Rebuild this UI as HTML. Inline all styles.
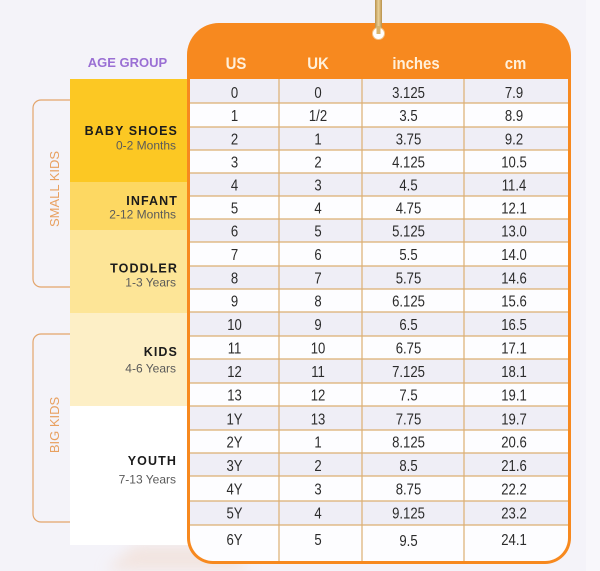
<!DOCTYPE html>
<html><head><meta charset="utf-8"><style>
html,body{margin:0;padding:0;background:#f4f3f9;}
svg{display:block;}
.h{font-family:"Liberation Sans",sans-serif;font-weight:bold;font-size:17px;fill:#fff0da;text-anchor:middle;}
.d{font-family:"Liberation Sans",sans-serif;font-size:16px;fill:#2b2b2b;text-anchor:middle;}
.t{font-family:"Liberation Sans",sans-serif;font-weight:bold;font-size:12.5px;letter-spacing:1.1px;fill:#1b1b1b;text-anchor:end;}
.s{font-family:"Liberation Sans",sans-serif;font-size:12px;fill:#5a5a5a;text-anchor:end;}
.r{font-family:"Liberation Sans",sans-serif;font-size:13px;fill:#e8a060;text-anchor:middle;}
</style></head><body>
<svg width="600" height="571" viewBox="0 0 600 571" xmlns="http://www.w3.org/2000/svg">
<defs>
<filter id="sh" x="-30%" y="-50%" width="160%" height="200%"><feGaussianBlur stdDeviation="7"/></filter>
<clipPath id="inner"><path d="M190,79 L568,79 L568,538 A23,23 0 0 1 545,561 L213,561 A23,23 0 0 1 190,538 Z"/></clipPath>
<linearGradient id="gold" x1="0" x2="1" y1="0" y2="0"><stop offset="0" stop-color="#b8904a"/><stop offset="0.5" stop-color="#ead29a"/><stop offset="1" stop-color="#b8904a"/></linearGradient>
</defs>
<rect width="600" height="571" fill="#f4f3f9"/>
<rect x="586" y="0" width="14" height="571" fill="#f8f7fb"/>
<!-- shadow -->
<path d="M105,571 L135,545 L230,545 L250,571 Z" fill="#f2dfd6" opacity="0.7" filter="url(#sh)"/>

<!-- AGE GROUP -->
<text x="127.5" y="67" style="font-family:'Liberation Sans',sans-serif;font-weight:bold;font-size:13px;fill:#9a6fd4;text-anchor:middle">AGE GROUP</text>

<!-- brackets -->
<path d="M70,100 L41,100 A8,8 0 0 0 33,108 L33,279 A8,8 0 0 0 41,287 L70,287" fill="none" stroke="#e3a56c" stroke-width="1.2"/>
<path d="M70,334 L41,334 A8,8 0 0 0 33,342 L33,514 A8,8 0 0 0 41,522 L70,522" fill="none" stroke="#e3a56c" stroke-width="1.2"/>
<text class="r" transform="translate(59,189) rotate(-90)">SMALL KIDS</text>
<text class="r" transform="translate(59,425) rotate(-90)">BIG KIDS</text>

<!-- age blocks -->
<rect x="70" y="79" width="120" height="103" fill="#fcc823"/>
<rect x="70" y="182" width="120" height="48" fill="#fdd862"/>
<rect x="70" y="230" width="120" height="83" fill="#fde597"/>
<rect x="70" y="313" width="120" height="93" fill="#fdefc6"/>
<rect x="70" y="406" width="120" height="139" fill="#ffffff"/>

<text class="t" x="178" y="135">BABY SHOES</text>
<text class="s" x="176" y="149.5">0-2 Months</text>
<text class="t" x="178" y="205">INFANT</text>
<text class="s" x="176" y="218.5">2-12 Months</text>
<text class="t" x="178" y="272.5">TODDLER</text>
<text class="s" x="176" y="286.5">1-3 Years</text>
<text class="t" x="178" y="356">KIDS</text>
<text class="s" x="176" y="372.5">4-6 Years</text>
<text class="t" x="177" y="465">YOUTH</text>
<text class="s" x="176" y="483.5">7-13 Years</text>

<!-- card -->
<path d="M187,55 A32,32 0 0 1 219,23 L539,23 A32,32 0 0 1 571,55 L571,538 A26,26 0 0 1 545,564 L213,564 A26,26 0 0 1 187,538 Z" fill="#f7891f"/>
<g clip-path="url(#inner)">
<rect x="190" y="79" width="378" height="482" fill="#fdfdff"/>
<g fill="#efeef6">
<rect x="190" y="79" width="378" height="24"/>
<rect x="190" y="127" width="378" height="23"/>
<rect x="190" y="173" width="378" height="23"/>
<rect x="190" y="219" width="378" height="23"/>
<rect x="190" y="266" width="378" height="23"/>
<rect x="190" y="312" width="378" height="24"/>
<rect x="190" y="359" width="378" height="24"/>
<rect x="190" y="406" width="378" height="24"/>
<rect x="190" y="453" width="378" height="23"/>
<rect x="190" y="501" width="378" height="24"/>
</g>
<g stroke="#dcae72" stroke-width="1.2">
<line x1="190" x2="568" y1="103" y2="103"/>
<line x1="190" x2="568" y1="127" y2="127"/>
<line x1="190" x2="568" y1="150" y2="150"/>
<line x1="190" x2="568" y1="173" y2="173"/>
<line x1="190" x2="568" y1="196" y2="196"/>
<line x1="190" x2="568" y1="219" y2="219"/>
<line x1="190" x2="568" y1="242" y2="242"/>
<line x1="190" x2="568" y1="266" y2="266"/>
<line x1="190" x2="568" y1="289" y2="289"/>
<line x1="190" x2="568" y1="312" y2="312"/>
<line x1="190" x2="568" y1="336" y2="336"/>
<line x1="190" x2="568" y1="359" y2="359"/>
<line x1="190" x2="568" y1="383" y2="383"/>
<line x1="190" x2="568" y1="406" y2="406"/>
<line x1="190" x2="568" y1="430" y2="430"/>
<line x1="190" x2="568" y1="453" y2="453"/>
<line x1="190" x2="568" y1="476" y2="476"/>
<line x1="190" x2="568" y1="501" y2="501"/>
<line x1="190" x2="568" y1="525" y2="525"/>
<line x1="279" x2="279" y1="79" y2="561"/>
<line x1="362" x2="362" y1="79" y2="561"/>
<line x1="464" x2="464" y1="79" y2="561"/>
</g>
</g>

<!-- hanger -->
<rect x="375" y="0" width="7" height="30" fill="url(#gold)"/>
<circle cx="378.5" cy="33.5" r="6" fill="#ffffff"/>
<circle cx="378.5" cy="33.5" r="6" fill="none" stroke="#f1c48a" stroke-width="1"/>
<rect x="376.5" y="26" width="4" height="8" fill="#d8b56e"/>

<!-- headers -->
<text class="h" transform="translate(236,69) scale(0.88,1)">US</text>
<text class="h" transform="translate(318,69) scale(0.88,1)">UK</text>
<text class="h" transform="translate(416,69) scale(0.88,1)">inches</text>
<text class="h" transform="translate(515.5,69) scale(0.88,1)">cm</text>

<!-- data -->
<g>
<text class="d" transform="translate(234.5,98) scale(0.82,1)">0</text><text class="d" transform="translate(318,98) scale(0.82,1)">0</text><text class="d" transform="translate(408.5,98) scale(0.82,1)">3.125</text><text class="d" transform="translate(514,98) scale(0.82,1)">7.9</text>
<text class="d" transform="translate(234.5,121) scale(0.82,1)">1</text><text class="d" transform="translate(318,121) scale(0.82,1)">1/2</text><text class="d" transform="translate(408.5,121) scale(0.82,1)">3.5</text><text class="d" transform="translate(514,121) scale(0.82,1)">8.9</text>
<text class="d" transform="translate(234.5,144.5) scale(0.82,1)">2</text><text class="d" transform="translate(318,144.5) scale(0.82,1)">1</text><text class="d" transform="translate(408.5,144.5) scale(0.82,1)">3.75</text><text class="d" transform="translate(514,144.5) scale(0.82,1)">9.2</text>
<text class="d" transform="translate(234.5,167.5) scale(0.82,1)">3</text><text class="d" transform="translate(318,167.5) scale(0.82,1)">2</text><text class="d" transform="translate(408.5,167.5) scale(0.82,1)">4.125</text><text class="d" transform="translate(514,167.5) scale(0.82,1)">10.5</text>
<text class="d" transform="translate(234.5,190.5) scale(0.82,1)">4</text><text class="d" transform="translate(318,190.5) scale(0.82,1)">3</text><text class="d" transform="translate(408.5,190.5) scale(0.82,1)">4.5</text><text class="d" transform="translate(514,190.5) scale(0.82,1)">11.4</text>
<text class="d" transform="translate(234.5,213.5) scale(0.82,1)">5</text><text class="d" transform="translate(318,213.5) scale(0.82,1)">4</text><text class="d" transform="translate(408.5,213.5) scale(0.82,1)">4.75</text><text class="d" transform="translate(514,213.5) scale(0.82,1)">12.1</text>
<text class="d" transform="translate(234.5,236.5) scale(0.82,1)">6</text><text class="d" transform="translate(318,236.5) scale(0.82,1)">5</text><text class="d" transform="translate(408.5,236.5) scale(0.82,1)">5.125</text><text class="d" transform="translate(514,236.5) scale(0.82,1)">13.0</text>
<text class="d" transform="translate(234.5,260) scale(0.82,1)">7</text><text class="d" transform="translate(318,260) scale(0.82,1)">6</text><text class="d" transform="translate(408.5,260) scale(0.82,1)">5.5</text><text class="d" transform="translate(514,260) scale(0.82,1)">14.0</text>
<text class="d" transform="translate(234.5,283.5) scale(0.82,1)">8</text><text class="d" transform="translate(318,283.5) scale(0.82,1)">7</text><text class="d" transform="translate(408.5,283.5) scale(0.82,1)">5.75</text><text class="d" transform="translate(514,283.5) scale(0.82,1)">14.6</text>
<text class="d" transform="translate(234.5,306.5) scale(0.82,1)">9</text><text class="d" transform="translate(318,306.5) scale(0.82,1)">8</text><text class="d" transform="translate(408.5,306.5) scale(0.82,1)">6.125</text><text class="d" transform="translate(514,306.5) scale(0.82,1)">15.6</text>
<text class="d" transform="translate(234.5,330) scale(0.82,1)">10</text><text class="d" transform="translate(318,330) scale(0.82,1)">9</text><text class="d" transform="translate(408.5,330) scale(0.82,1)">6.5</text><text class="d" transform="translate(514,330) scale(0.82,1)">16.5</text>
<text class="d" transform="translate(234.5,353.5) scale(0.82,1)">11</text><text class="d" transform="translate(318,353.5) scale(0.82,1)">10</text><text class="d" transform="translate(408.5,353.5) scale(0.82,1)">6.75</text><text class="d" transform="translate(514,353.5) scale(0.82,1)">17.1</text>
<text class="d" transform="translate(234.5,377) scale(0.82,1)">12</text><text class="d" transform="translate(318,377) scale(0.82,1)">11</text><text class="d" transform="translate(408.5,377) scale(0.82,1)">7.125</text><text class="d" transform="translate(514,377) scale(0.82,1)">18.1</text>
<text class="d" transform="translate(234.5,400.5) scale(0.82,1)">13</text><text class="d" transform="translate(318,400.5) scale(0.82,1)">12</text><text class="d" transform="translate(408.5,400.5) scale(0.82,1)">7.5</text><text class="d" transform="translate(514,400.5) scale(0.82,1)">19.1</text>
<text class="d" transform="translate(234.5,424.5) scale(0.82,1)">1Y</text><text class="d" transform="translate(318,424.5) scale(0.82,1)">13</text><text class="d" transform="translate(408.5,424.5) scale(0.82,1)">7.75</text><text class="d" transform="translate(514,424.5) scale(0.82,1)">19.7</text>
<text class="d" transform="translate(234.5,447.5) scale(0.82,1)">2Y</text><text class="d" transform="translate(318,447.5) scale(0.82,1)">1</text><text class="d" transform="translate(408.5,447.5) scale(0.82,1)">8.125</text><text class="d" transform="translate(514,447.5) scale(0.82,1)">20.6</text>
<text class="d" transform="translate(234.5,471) scale(0.82,1)">3Y</text><text class="d" transform="translate(318,471) scale(0.82,1)">2</text><text class="d" transform="translate(408.5,471) scale(0.82,1)">8.5</text><text class="d" transform="translate(514,471) scale(0.82,1)">21.6</text>
<text class="d" transform="translate(234.5,494.5) scale(0.82,1)">4Y</text><text class="d" transform="translate(318,494.5) scale(0.82,1)">3</text><text class="d" transform="translate(408.5,494.5) scale(0.82,1)">8.75</text><text class="d" transform="translate(514,494.5) scale(0.82,1)">22.2</text>
<text class="d" transform="translate(234.5,518.5) scale(0.82,1)">5Y</text><text class="d" transform="translate(318,518.5) scale(0.82,1)">4</text><text class="d" transform="translate(408.5,518.5) scale(0.82,1)">9.125</text><text class="d" transform="translate(514,518.5) scale(0.82,1)">23.2</text>
<text class="d" transform="translate(234.5,545) scale(0.82,1)">6Y</text><text class="d" transform="translate(318,545) scale(0.82,1)">5</text><text class="d" transform="translate(408.5,546) scale(0.82,1)">9.5</text><text class="d" transform="translate(514,545) scale(0.82,1)">24.1</text>
</g>
</svg>
</body></html>
